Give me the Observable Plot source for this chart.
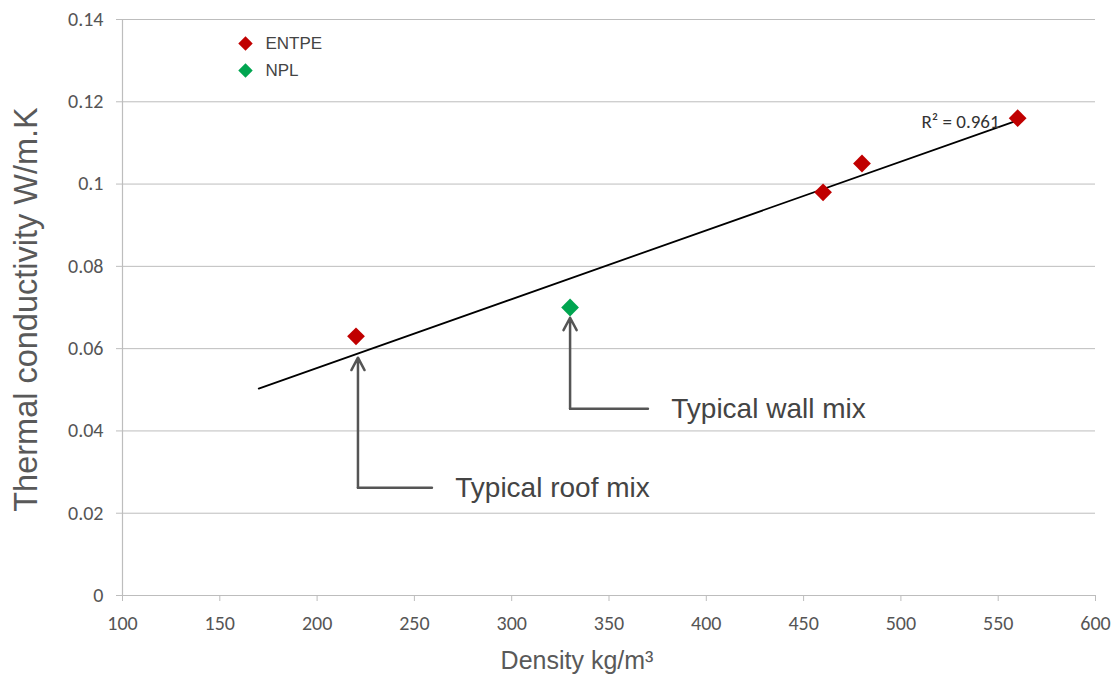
<!DOCTYPE html>
<html>
<head>
<meta charset="utf-8">
<script src="https://cdn.jsdelivr.net/npm/d3@7"></script>
<script src="https://cdn.jsdelivr.net/npm/@observablehq/plot@0.6"></script>
<style>
  html, body { margin: 0; padding: 0; background: #fff; }
  #chart { width: 1117px; height: 674px; }
</style>
</head>
<body>
<div id="chart"></div>
<script>
// ---- data ----
const entpeDensity = [220, 460, 480, 560];
const entpeConductivity = [0.063, 0.098, 0.105, 0.116];
const nplDensity = [330];
const nplConductivity = [0.070];
const trendDensity = [170, 560];
const trendConductivity = [0.0503, 0.1155];
const xTicks = [100, 150, 200, 250, 300, 350, 400, 450, 500, 550, 600];
const yTicks = [0, 0.02, 0.04, 0.06, 0.08, 0.1, 0.12, 0.14];
const seriesNames = ["ENTPE", "NPL"];
const seriesColors = ["#c00000", "#00a550"];
const r2Label = "R² = 0.961";
const r2Pos = [510.6, 0.1150];
// annotations: label, x of the arrow, arrow tip y, elbow y, end of horizontal leg, text x
const annotations = [
  {label: "Typical roof mix", x: 221, tipY: 0.0578, elbowY: 0.0262, endX: 259, textX: 271},
  {label: "Typical wall mix", x: 330, tipY: 0.0675, elbowY: 0.0454, endX: 370, textX: 382}
];

const points = [
  ...entpeDensity.map((d, i) => ({series: "ENTPE", density: d, k: entpeConductivity[i]})),
  ...nplDensity.map((d, i) => ({series: "NPL", density: d, k: nplConductivity[i]}))
];
const trend = trendDensity.map((d, i) => ({density: d, k: trendConductivity[i]}));
const colorOf = Object.fromEntries(seriesNames.map((s, i) => [s, seriesColors[i]]));

const tickFont = "Carlito, 'Open Sans', sans-serif";
const labelFont = "'Liberation Sans', Arial, sans-serif";

const chart = Plot.plot({
  width: 1117,
  height: 674,
  marginLeft: 122,
  marginRight: 22,
  marginTop: 19,
  marginBottom: 79,
  style: {fontFamily: labelFont, fontSize: "17px", color: "#4a4a4a", background: "#fff"},
  x: {domain: [100, 600], label: null},
  y: {domain: [0, 0.14], label: null},
  marks: [
    Plot.gridY(yTicks, {stroke: "#bdbdbd", strokeOpacity: 1, strokeWidth: 1}),
    Plot.ruleX([100], {stroke: "#bdbdbd", strokeWidth: 1.2}),
    Plot.axisY(yTicks, {tickFormat: d => String(+d.toFixed(2)), tickSize: 6, tickPadding: 13, stroke: "#bdbdbd", fontSize: 20, fill: "#555", fontFamily: tickFont}),
    Plot.axisX(xTicks, {tickFormat: d => String(d), tickSize: 6, tickPadding: 14, stroke: "#bdbdbd", fontSize: 20, fill: "#555", fontFamily: tickFont}),
    Plot.text(["Thermal conductivity W/m.K"], {frameAnchor: "left", textAnchor: "middle", lineAnchor: "middle", dx: -96, dy: 2, rotate: -90, fontSize: 32.5, fill: "#595959", fontFamily: labelFont}),
    Plot.text(["Density kg/m³"], {frameAnchor: "bottom", textAnchor: "middle", lineAnchor: "middle", dx: -32, dy: 65, fontSize: 25, fill: "#595959", fontFamily: labelFont}),
    Plot.line(trend, {x: "density", y: "k", stroke: "#000", strokeWidth: 1.8}),
    Plot.dot(points, {x: "density", y: "k", symbol: "diamond2", r: 8, fill: d => colorOf[d.series], stroke: "none"}),
    Plot.text([r2Label], {x: r2Pos[0], y: r2Pos[1], textAnchor: "start", lineAnchor: "middle", fontSize: 19, fill: "#333", fontFamily: tickFont}),
    // annotation arrows
    Plot.line(annotations.flatMap((a, i) => [
      {g: i, x: a.endX, y: a.elbowY},
      {g: i, x: a.x, y: a.elbowY}
    ]), {x: "x", y: "y", z: "g", stroke: "#555", strokeWidth: 2.5}),
    Plot.arrow(annotations, {x1: "x", y1: "elbowY", x2: "x", y2: "tipY", stroke: "#555", strokeWidth: 2.5, headLength: 8.4, headAngle: 56, bend: 0}),
    Plot.text(annotations, {x: "textX", y: "elbowY", text: "label", textAnchor: "start", lineAnchor: "middle", fontSize: 28, fill: "#444", fontFamily: labelFont}),
    // legend
    ...seriesNames.flatMap((s, i) => [
      Plot.dot([s], {frameAnchor: "top-left", dx: 123, dy: 24 + i * 27, symbol: "diamond2", r: 6.5, fill: seriesColors[i]}),
      Plot.text([s], {frameAnchor: "top-left", dx: 143, dy: 24 + i * 27, textAnchor: "start", lineAnchor: "middle", fontSize: 17, fill: "#444", fontFamily: labelFont})
    ])
  ]
});
document.getElementById("chart").appendChild(chart);
</script>
</body>
</html>
